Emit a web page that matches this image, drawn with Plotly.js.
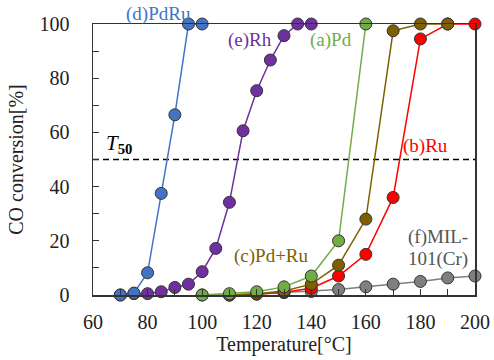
<!DOCTYPE html>
<html><head><meta charset="utf-8">
<script src="https://cdn.plot.ly/plotly-3.0.1.min.js"></script>
<style>html,body{margin:0;padding:0;background:#fff}#c{width:494px;height:360px}</style>
</head><body><div id="c"></div>
<script>
const tPd = [100,110,120,130,140,150,160];
const vPd = [0,0.5,1.2,3,7,20,100];
const tRu = [110,120,130,140,150,160,170,180,190,200];
const vRu = [0,0.3,1,2.5,7,15,36,94.5,100,100];
const tPdRuMix = [110,120,130,140,150,160,170,180,190];
const vPdRuMix = [0,0.5,1.5,4,11,28,97.5,100,100];
const tPdRu = [70,75,80,85,90,95,100];
const vPdRu = [0,0.7,8.2,37.5,66.5,100,100];
const tRh = [70,75,80,85,90,95,100,105,110,115,120,125,130,135,140];
const vRh = [0,0.5,0.5,1.2,2.8,4,8.6,17.2,34.2,60.6,75.4,86.7,95.7,100,100];
const tMIL = [100,110,120,130,140,150,160,170,180,190,200];
const vMIL = [0,0,0.4,0.9,1.3,2,3,4,5,6.3,7];
const t50x = [60,200];
const t50y = [50,50];

const F = "Liberation Serif";
function s(x,y,c){return {x:x,y:y,mode:'lines+markers',type:'scatter',
  line:{color:c,width:1.5},marker:{color:c,size:12,line:{color:'#333',width:1}},
  showlegend:false,cliponaxis:false,hoverinfo:'skip'};}
const data = [
  {x:t50x,y:t50y,mode:'lines',line:{color:'#000',width:1.3,dash:'6px,4px'},showlegend:false},
  s(tMIL,vMIL,'#7f7f7f'),
  s(tRu,vRu,'#ff0000'),
  s(tPdRuMix,vPdRuMix,'#7f6000'),
  s(tPd,vPd,'#70ad47'),
  s(tRh,vRh,'#7030a0'),
  s(tPdRu,vPdRu,'#4472c4')
];
const ann = (x,y,t,c,al)=>({xref:'paper',yref:'paper',x:x,y:y,text:t,showarrow:false,
  font:{family:F,size:19,color:c},xanchor:al||'center',yanchor:'middle'});
function px(xp){return (xp-92.5)/382.5;}
function py(yp){return (295-yp)/271;}
const tf = {family:F,size:20,color:'#222'};
const layout = {
  width:494,height:360,margin:{l:92.5,r:19,t:24,b:65},
  paper_bgcolor:'#fff',plot_bgcolor:'#fff',
  font:{family:F,size:20,color:'#222'},
  xaxis:{range:[60,200],dtick:20,tick0:60,ticks:'inside',ticklen:6,tickcolor:'#333',tickfont:tf,
    showline:true,linecolor:'#333',linewidth:1.5,mirror:true,showgrid:false,zeroline:false,
    ticklabelstandoff:8,minor:{dtick:10,ticks:'inside',ticklen:6,tickcolor:'#333'},
    title:{text:'Temperature[°C]',font:{family:F,size:20,color:'#222'},standoff:4}},
  yaxis:{range:[0,100],dtick:20,ticks:'inside',ticklen:6,tickcolor:'#333',tickfont:tf,
    showline:true,linecolor:'#333',linewidth:1.5,mirror:true,showgrid:false,zeroline:false,
    ticklabelstandoff:18,minor:{dtick:10,ticks:'inside',ticklen:6,tickcolor:'#333'},
    title:{text:'CO conversion[%]',font:{family:F,size:20,color:'#222'},standoff:10}},
  annotations:[
    ann(px(158),py(14),'(d)PdRu','#4472c4'),
    ann(px(250),py(40),'(e)Rh','#7030a0'),
    ann(px(331),py(40),'(a)Pd','#70ad47'),
    ann(px(425),py(146),'(b)Ru','#ff0000'),
    ann(px(271),py(256),'(c)Pd+Ru','#7f6000'),
    ann(px(438),py(237),'(f)MIL-','#555'),
    ann(px(438),py(259),'101(Cr)','#555'),
    {xref:'paper',yref:'paper',x:px(104),y:py(144),xanchor:'left',yanchor:'middle',showarrow:false,
     text:'<i>T</i><sub><b>50</b></sub>',font:{family:F,size:21,color:'#000'}}
  ]
};
Plotly.newPlot('c',data,layout,{staticPlot:true,displayModeBar:false});
</script></body></html>
